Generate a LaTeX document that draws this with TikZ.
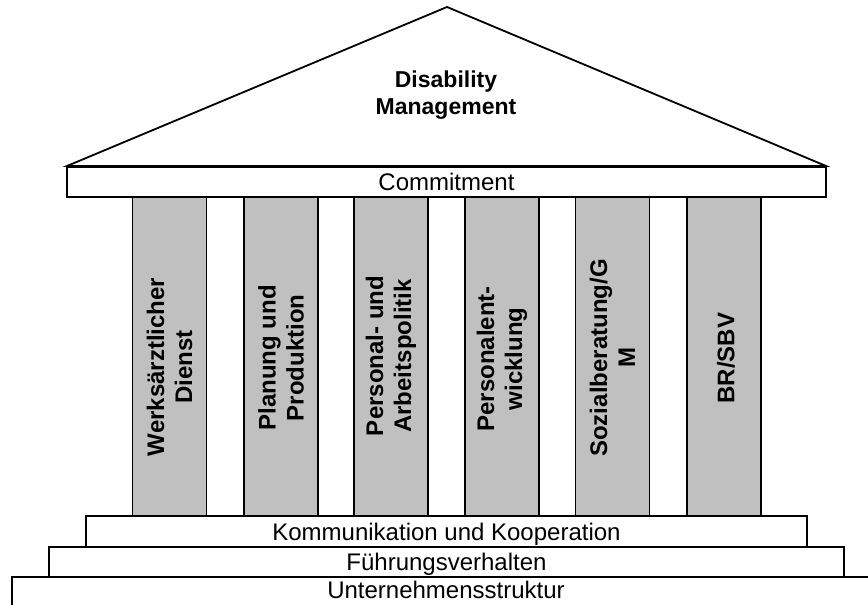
\documentclass[tikz,border=0pt]{standalone}
\usepackage{fontspec}
\setmainfont{Liberation Sans}
\definecolor{pillargray}{HTML}{C0C0C0}
\begin{document}
\begin{tikzpicture}[x=0.75pt,y=-0.75pt,
  line width=1.35pt, line join=miter,
  slab/.style={draw=black, fill=white, rectangle, inner sep=0pt,
    font=\fontsize{18}{21}\selectfont, text height=13pt, text depth=0pt},
  slabtext/.style={inner sep=0pt, font=\fontsize{18}{21}\selectfont},
  pillar/.style={draw=black, fill=pillargray, rectangle, inner sep=0pt,
    minimum width=55.5pt, minimum height=239.25pt},
  pillartext/.style={rotate=90, inner sep=0pt, align=center,
    font=\fontsize{18}{21}\selectfont\bfseries},
  rooftext/.style={inner sep=0pt, align=center,
    font=\fontsize{17.25}{20.25}\selectfont\bfseries}]
\useasboundingbox (0,0) rectangle (868,605);
\clip (0,0) rectangle (868,605);

% roof
\coordinate (roofL) at (67,166);
\coordinate (roofTop) at (447,7);
\coordinate (roofR) at (826,166);
\filldraw[fill=white] (roofL) -- (roofTop) -- (roofR) -- cycle;
\node[rooftext] (title) at (446,95.5) {Disability\\Management};

% architrave
\node[slab, minimum width=569.25pt, minimum height=22.5pt] (commit) at (446.5,182) {Commitment};

% pillars
\node[pillar] (p1) at (169.5,356.5) {};
\node[pillar] (p2) at (281,356.5) {};
\node[pillar] (p3) at (391,356.5) {};
\node[pillar] (p4) at (502,356.5) {};
\node[pillar] (p5) at (612.5,356.5) {};
\node[pillar] (p6) at (724,356.5) {};

\node[pillartext] (l1) at (169.5,367) {Werksärztlicher\\Dienst};
\node[pillartext] (l2) at (281,358) {Planung und\\Produktion};
\node[pillartext] (l3) at (391,356) {Personal- und\\Arbeitspolitik};
\node[pillartext] (l4) at (502,359) {Personalent-\\wicklung};
\node[pillartext] (l5) at (612.5,358) {Sozialberatung/G\\M};
\node[pillartext] (l6) at (726,358) {BR/SBV};

% steps of the base
\node[slab, minimum width=540.75pt, minimum height=23.25pt] (komm) at (446.5,531.5) {Kommunikation und Kooperation};
\node[slab, minimum width=596.25pt, minimum height=22.5pt] (fuehr) at (446.5,562) {Führungsverhalten};
\node[slab, minimum width=651pt, minimum height=33pt] (unter) at (446,599) {};
\node[slabtext, anchor=base] (unterlabel) at (446,599) {Unternehmensstruktur};
\end{tikzpicture}
\end{document}
